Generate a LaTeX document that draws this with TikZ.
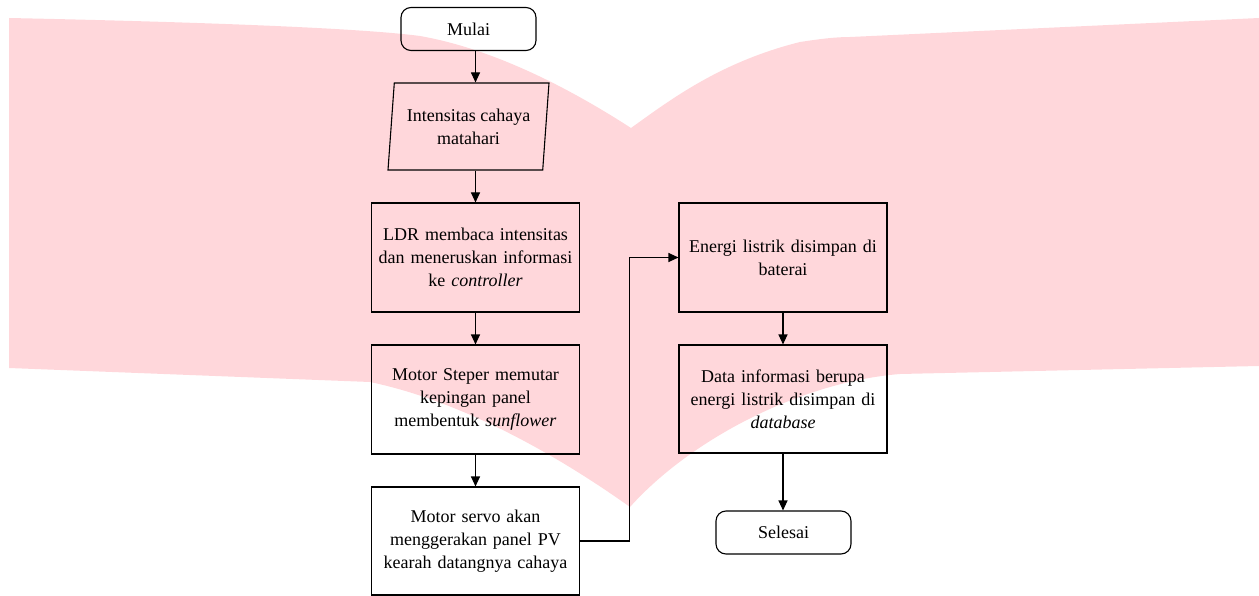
\documentclass[tikz,border=0pt]{standalone}
\usepackage{fontspec}
\setmainfont{Liberation Serif}
\usetikzlibrary{arrows.meta,shapes.geometric,calc}
\definecolor{wm}{RGB}{255,215,219}
\begin{document}
\begin{tikzpicture}[x=1pt,y=-1pt,
  font=\fontsize{18}{23}\selectfont,
  box/.style={draw, line width=1.1pt, align=center, inner sep=0pt},
  proc/.style={box, minimum width=208pt, minimum height=109pt, text width=200pt},
  term/.style={box, rounded corners=10pt, minimum width=135pt, minimum height=43pt},
  io/.style={box, trapezium, trapezium left angle=80, trapezium right angle=100,
    trapezium stretches body, minimum width=161pt, minimum height=87pt},
  arr/.style={-{Triangle[length=10pt,width=9pt]}, line width=1.1pt}]
\useasboundingbox (0,0) rectangle (1259,596);
% watermark
\fill[wm] (9,18) .. controls (200,22) and (360,28) .. (420,36)
  .. controls (500,50) and (580,95) .. (631,128)
  .. controls (670,100) and (720,62) .. (800,42)
  .. controls (820,39) and (835,37) .. (850,37)
  -- (1259,18) -- (1259,366) -- (900,374)
  .. controls (800,382) and (690,440) .. (630,507)
  .. controls (585,475) and (480,405) .. (370,382)
  -- (9,368) -- cycle;
% nodes
\node[term] (mulai) at (468.5,29) {Mulai};
\node[io] (inp) at (468.5,126.5) {Intensitas cahaya\\matahari};
\node[proc] (ldr) at (475.5,257.5) {LDR membaca intensitas\\dan meneruskan informasi\\ke \textit{controller}};
\node[proc] (steper) at (475.5,399.5) {Motor Steper memutar\\kepingan panel\\membentuk \textit{sunflower}};
\node[proc, minimum height=108pt] (servo) at (475.5,541) {Motor servo akan\\menggerakan panel PV\\kearah datangnya cahaya};
\node[proc] (energi) at (783,257.5) {Energi listrik disimpan di\\baterai};
\node[proc, minimum height=108pt] (data) at (783,399) {Data informasi berupa\\energi listrik disimpan di\\\textit{database}};
\node[term] (selesai) at (783.5,532.5) {Selesai};
% connectors
\draw[arr] (mulai.south -| ldr.north) -- (inp.north -| ldr.north);
\draw[arr] (inp.south -| ldr.north) -- (ldr.north);
\draw[arr] (ldr.south) -- (steper.north);
\draw[arr] (steper.south) -- (servo.north);
\draw[arr] (servo.east) -- ++(49,0) |- (energi.west);
\draw[arr] (energi.south) -- (data.north);
\draw[arr] (data.south) -- (data.south |- selesai.north);
\end{tikzpicture}
\end{document}
